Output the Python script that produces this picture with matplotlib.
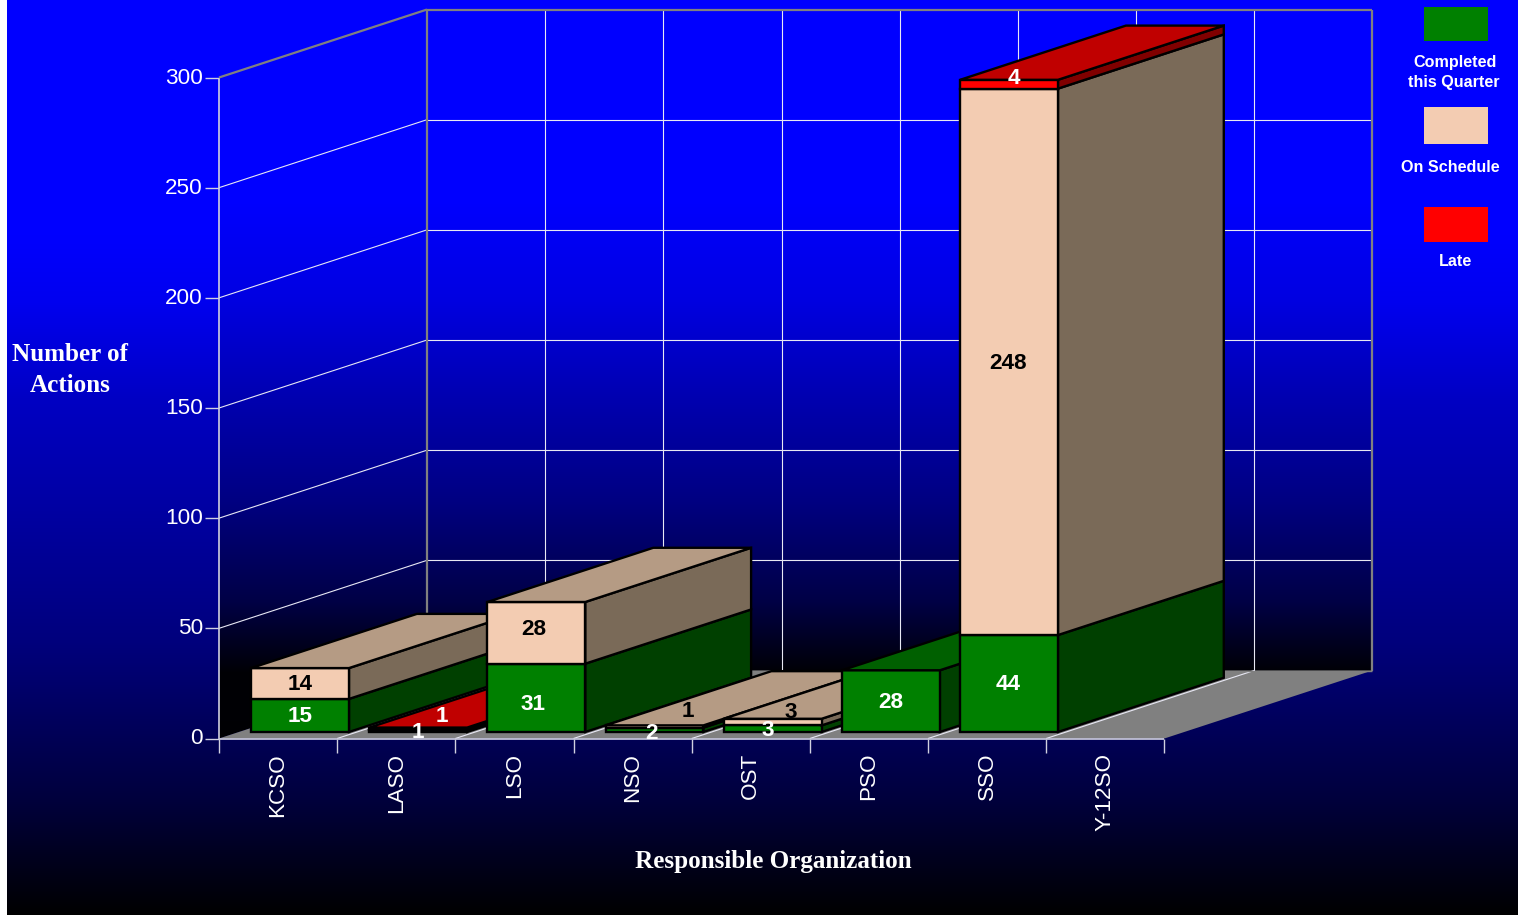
import numpy as np
import matplotlib
matplotlib.use("Agg")
import matplotlib.pyplot as plt
from matplotlib.patches import Polygon, Rectangle

# ---- data ----
categories = ["KCSO", "LASO", "LSO", "NSO", "OST", "PSO", "SSO", "Y-12SO"]
completed = [15, 1, 31, 2, 3, 28, 44, 0]
on_schedule = [14, 0, 28, 1, 3, 0, 248, 0]
late = [0, 1, 0, 0, 0, 0, 4, 0]
y_ticks = [0, 50, 100, 150, 200, 250, 300]
legend_labels = ["Completed\nthis Quarter", "On Schedule", "Late"]

# ---- style / layout ----
W, H = 1518, 915
PX_SLOT = 118.17      # pixels per category
PX_UNIT = 2.2033      # pixels per action
X0_PX, Y0_PX = 219.0, 738.5
DEPTH_X = 208 / PX_SLOT   # full depth, in category units
DEPTH_Y = 68 / PX_UNIT    # full depth, in value units
BAR_D0, BAR_D1 = 0.096, 0.893
BAR_L, BAR_R = 0.103, 0.931

fig = plt.figure(figsize=(W / 100, H / 100), dpi=100, facecolor="white")
ax = fig.add_axes([0, 0, 1, 1])
XLIM = (-X0_PX / PX_SLOT, (W - X0_PX) / PX_SLOT)
YLIM = ((Y0_PX - H) / PX_UNIT, Y0_PX / PX_UNIT)
ax.axis("off")


def pt(x, v, d=0.0):
    """Oblique projection: category x, value v, depth d (0 front, 1 back)."""
    return (x + d * DEPTH_X, v + d * DEPTH_Y)


def px(xp, yp):
    return ((xp - X0_PX) / PX_SLOT, (Y0_PX - yp) / PX_UNIT)


def gradient(stops, clip=None, x_rng=(0, W), z=0):
    ys = np.arange(H)
    b = np.interp(ys, [s[0] for s in stops], [s[1] for s in stops]) / 255
    img = np.zeros((H, 1, 3))
    img[:, 0, 2] = b
    (x0, y1), (x1, y0) = px(x_rng[0], H), px(x_rng[1], 0)
    im = ax.imshow(img, extent=(x0, x1, y1, y0), origin="upper", aspect="auto",
                   zorder=z, interpolation="bilinear")
    if clip is not None:
        im.set_clip_path(clip)
    return im


outer_stops = [(0, 255), (230, 255), (300, 240), (400, 195), (500, 165), (640, 125), (738, 85), (800, 60), (915, 0)]
wall_stops = [(0, 255), (200, 255), (300, 225), (400, 175), (500, 130), (600, 70), (672, 5), (915, 0)]

ax.add_patch(Rectangle(px(0, H), 7 / PX_SLOT, H / PX_UNIT, fc="white", ec="none", zorder=0))
gradient(outer_stops, x_rng=(7, W), z=0)

n = len(categories)
vmax = y_ticks[-1]

# walls and floor
left_wall = Polygon([pt(0, 0), pt(0, vmax), pt(0, vmax, 1), pt(0, 0, 1)], closed=True,
                    fc="none", ec="none", transform=ax.transData, zorder=1)
back_wall = Polygon([pt(0, 0, 1), pt(0, vmax, 1), pt(n, vmax, 1), pt(n, 0, 1)], closed=True,
                    fc="none", ec="none", transform=ax.transData, zorder=1)
ax.add_patch(left_wall)
ax.add_patch(back_wall)
gradient(wall_stops, clip=left_wall, z=1)
gradient(wall_stops, clip=back_wall, z=1)
ax.set_xlim(*XLIM)
ax.set_ylim(*YLIM)
ax.add_patch(Polygon([pt(0, 0), pt(n, 0), pt(n, 0, 1), pt(0, 0, 1)], closed=True,
                     fc="#808080", ec="none", zorder=2))


def seg(a, b, **kw):
    kw.setdefault("solid_capstyle", "butt")
    ax.plot([a[0], b[0]], [a[1], b[1]], **kw)


GRID = dict(color="#e8e8f4", lw=0.8, zorder=3)
BORDER = dict(color="#808080", lw=1.6, zorder=3.2)
for v in y_ticks[1:-1]:
    seg(pt(0, v), pt(0, v, 1), **GRID)
    seg(pt(0, v, 1), pt(n, v, 1), **GRID)
for k in range(1, n):
    seg(pt(k, 0, 1), pt(k, vmax, 1), **GRID)
for k in range(1, n):
    seg(pt(k, 0), pt(k, 0, 1), **GRID)
seg(pt(0, vmax), pt(0, vmax, 1), **BORDER)
seg(pt(0, vmax, 1), pt(n, vmax, 1), **BORDER)
seg(pt(n, 0, 1), pt(n, vmax, 1), **BORDER)
seg(pt(0, 0, 1), pt(0, vmax, 1), **BORDER)
seg(pt(0, 0, 1), pt(n, 0, 1), color="#808080", lw=1.0, zorder=3)
seg(pt(0, 0), pt(0, vmax), color="#d0d0e0", lw=1.2, zorder=3.1)
seg(pt(0, 0), pt(n, 0), color="#d0d0e0", lw=1.2, zorder=3.1)

# ticks
tick_len_y = 14 / PX_SLOT
tick_len_x = 14 / PX_UNIT
for v in y_ticks:
    seg((0 - tick_len_y, v), (0, v), color="#d0d0e0", lw=1.0, zorder=3.1)
    ax.text(-16 / PX_SLOT, v - 0.5 / PX_UNIT, str(v), ha="right", va="center", color="white",
            fontsize=16.2, family="Liberation Sans", zorder=6)
for k in range(n + 1):
    seg((k, 0), (k, -tick_len_x), color="#d0d0e0", lw=1.0, zorder=3.1)
for k, name in enumerate(categories):
    ax.text(k + 0.5, -14.5 / PX_UNIT, name, rotation=90, ha="center", va="top", color="white",
            fontsize=16.2, family="Liberation Sans", zorder=6)

# bars
face_colors = {
    "completed": ("#008000", "#006000", "#004000"),
    "on_schedule": ("#f3ccb2", "#b59b84", "#7a6a58"),
    "late": ("#ff0000", "#c00000", "#800000"),
}
series = [("completed", completed, "white"),
          ("on_schedule", on_schedule, "black"),
          ("late", late, "white")]
# label nudges in pixels (dx, dy with y down) where the source moved labels off-centre
nudges = {(1, "completed"): (0, 0), (1, "late"): (24, -14),
          (2, "completed"): (-3, 5), (2, "on_schedule"): (-3, -5),
          (3, "completed"): (-3, 2), (3, "on_schedule"): (33, -16),
          (4, "completed"): (-5, 0), (4, "on_schedule"): (18, -11),
          (6, "completed"): (-1, 0), (6, "on_schedule"): (-1, 0),
          (6, "late"): (5, -7)}
OUT = dict(ec="black", lw=1.7, joinstyle="miter")
for i in range(n):
    xl, xr = i + BAR_L, i + BAR_R
    base = 0
    stack = [(nm, vals[i], col) for nm, vals, col in series if vals[i] > 0]
    for j, (nm, val, col) in enumerate(stack):
        top = base + val
        front, topc, side = face_colors[nm]
        z = 4 + i + j * 0.01
        ax.add_patch(Polygon([pt(xr, base, BAR_D0), pt(xr, base, BAR_D1), pt(xr, top, BAR_D1), pt(xr, top, BAR_D0)],
                             closed=True, fc=side, zorder=z, **OUT))
        ax.add_patch(Polygon([pt(xl, base, BAR_D0), pt(xr, base, BAR_D0), pt(xr, top, BAR_D0), pt(xl, top, BAR_D0)],
                             closed=True, fc=front, zorder=z, **OUT))
        if j == len(stack) - 1:
            ax.add_patch(Polygon([pt(xl, top, BAR_D0), pt(xr, top, BAR_D0), pt(xr, top, BAR_D1), pt(xl, top, BAR_D1)],
                                 closed=True, fc=topc, zorder=z, **OUT))
        cx, cy = pt((xl + xr) / 2, (base + top) / 2, BAR_D0)
        dx, dy = nudges.get((i, nm), (0, 0))
        ax.text(cx + dx / PX_SLOT, cy - (dy - 1) / PX_UNIT, str(val), ha="center", va="center_baseline",
                color=col, fontsize=16.2, fontweight="bold", family="Liberation Sans", zorder=20)
        base = top

# axis titles
for txt, xp, yp in [("Number of", 70.5, 352), ("Actions", 70.5, 383), ("Responsible Organization", 773, 859)]:
    x, y = px(xp, yp)
    ax.text(x, y, txt, ha="center", va="center_baseline", color="white", fontsize=18.1,
            fontweight="bold", family="Liberation Serif", zorder=20)

# legend
swatches = [("#008000", 7, 41), ("#f3ccb2", 107, 144), ("#ff0000", 207, 242)]
for col, y0, y1 in swatches:
    x, y = px(1424, y1)
    ax.add_patch(Rectangle((x, y), 64 / PX_SLOT, (y1 - y0) / PX_UNIT, fc=col, ec="none", zorder=20))
legend_pos = [[(1455, 61), (1454, 81)], [(1450, 166)], [(1455, 260)]]
for label, places in zip(legend_labels, legend_pos):
    for line, (xp, yp) in zip(label.split("\n"), places):
        x, y = px(xp, yp)
        ax.text(x, y, line, ha="center", va="center_baseline", color="white", fontsize=11.6,
                fontweight="bold", family="Liberation Sans", zorder=20)

fig.savefig("out.png", dpi=100, facecolor="white")
